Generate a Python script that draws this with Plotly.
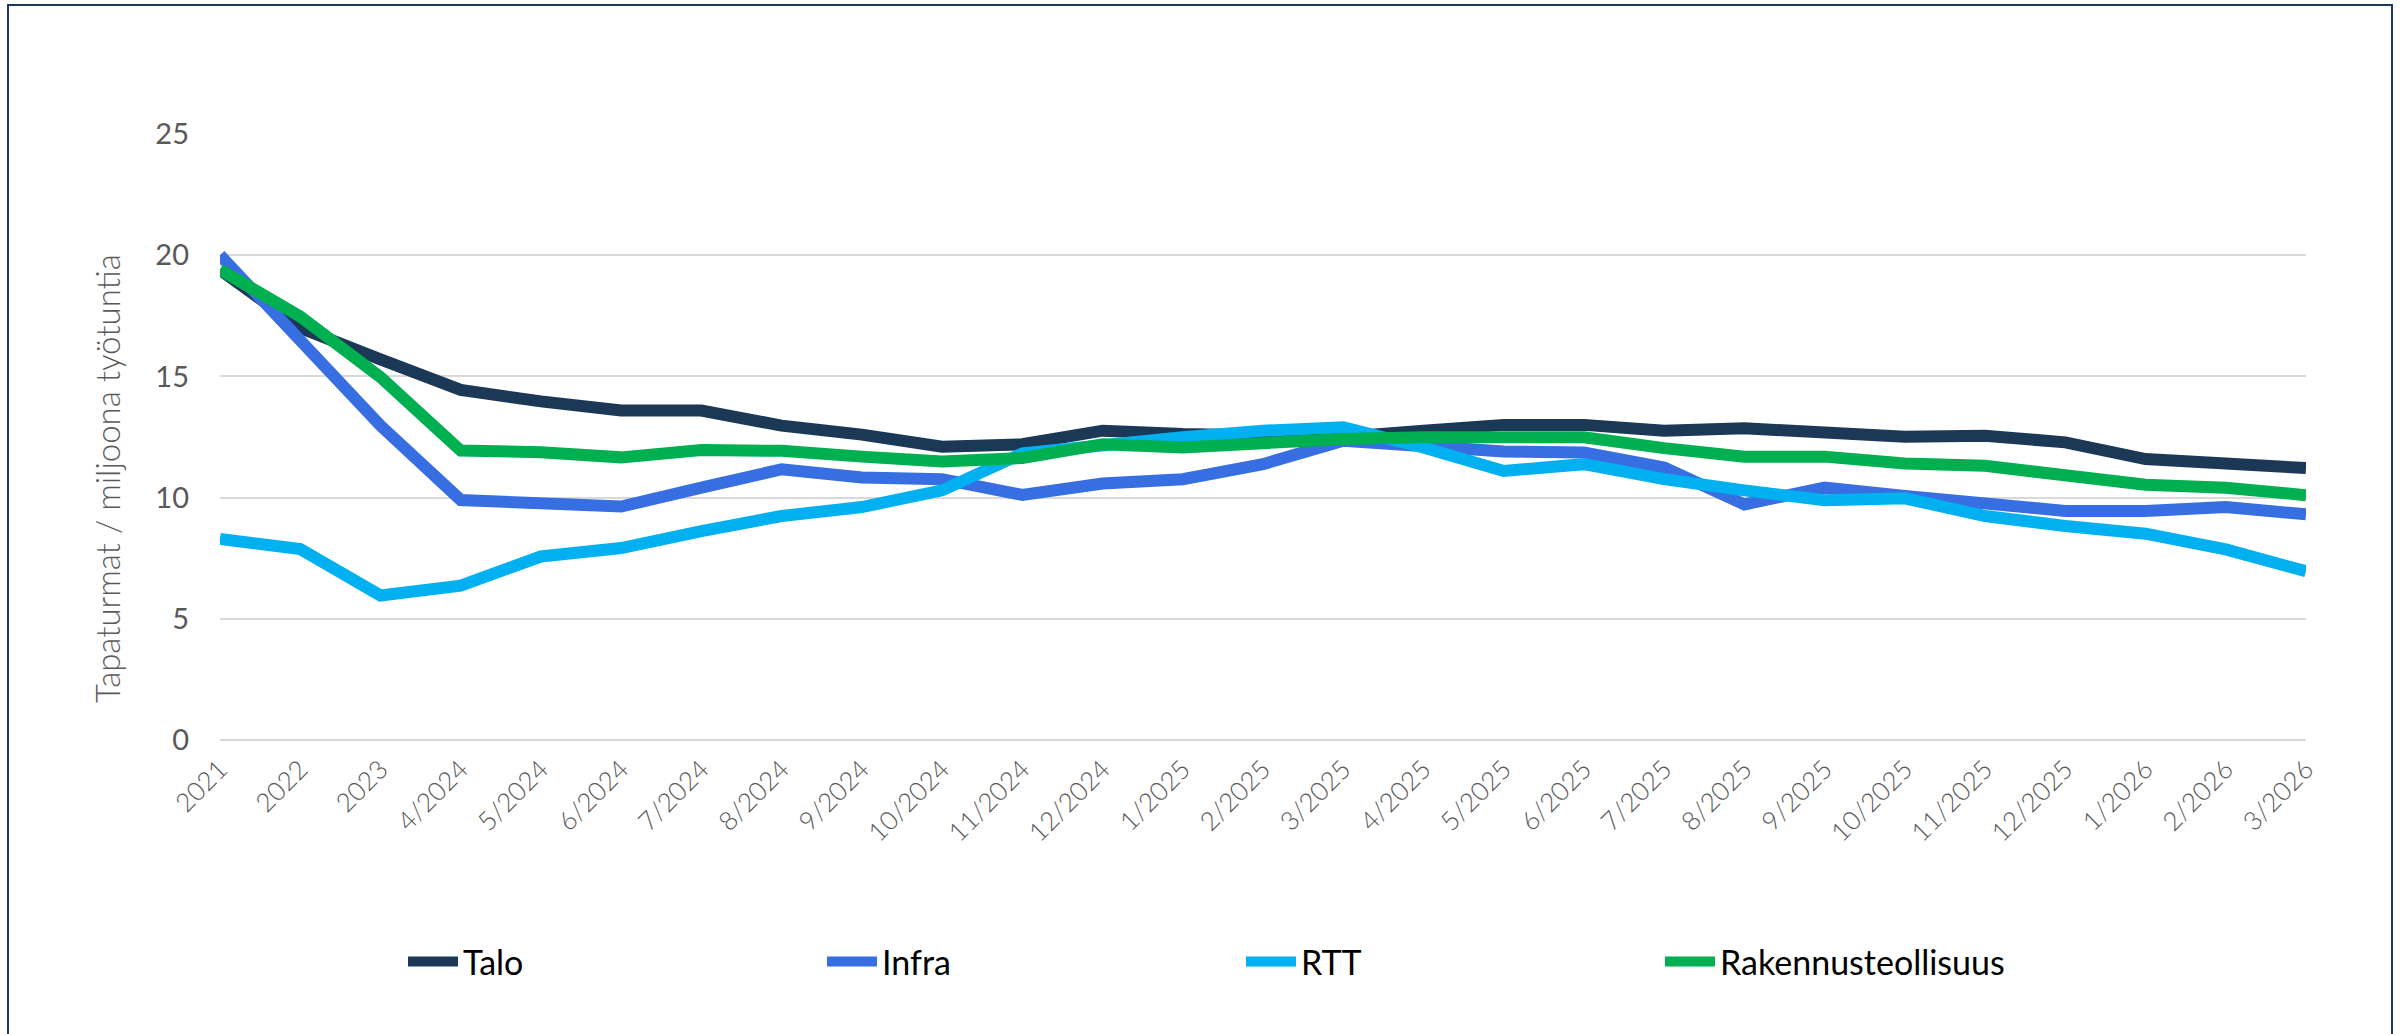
import plotly.graph_objects as go

categories = ["2021", "2022", "2023", "4/2024", "5/2024", "6/2024", "7/2024", "8/2024",
              "9/2024", "10/2024", "11/2024", "12/2024", "1/2025", "2/2025", "3/2025",
              "4/2025", "5/2025", "6/2025", "7/2025", "8/2025", "9/2025", "10/2025",
              "11/2025", "12/2025", "1/2026", "2/2026", "3/2026"]

talo = [19.4, 17.0, 15.7, 14.44, 13.97, 13.59, 13.59, 12.97, 12.6, 12.1, 12.2, 12.76, 12.62,
        12.62, 12.5, 12.76, 13.0, 13.0, 12.76, 12.86, 12.73, 12.51, 12.55, 12.28, 11.59, 11.41, 11.22]
infra = [20.0, 16.48, 12.97, 9.9, 9.8, 9.63, 10.41, 11.17, 10.83, 10.76, 10.11, 10.58, 10.76,
         11.38, 12.35, 12.07, 11.9, 11.86, 11.24, 9.72, 10.41, 10.07, 9.7, 9.45, 9.45, 9.61, 9.31]
rtt = [8.29, 7.88, 5.96, 6.37, 7.57, 7.92, 8.62, 9.24, 9.61, 10.3, 11.82, 12.2, 12.49,
       12.76, 12.9, 12.07, 11.1, 11.38, 10.76, 10.3, 9.89, 9.97, 9.24, 8.83, 8.51, 7.86, 6.96]
rakennus = [19.4, 17.47, 14.97, 11.94, 11.87, 11.66, 11.96, 11.93, 11.69, 11.49, 11.63, 12.2, 12.07,
            12.28, 12.42, 12.49, 12.49, 12.49, 12.04, 11.69, 11.69, 11.41, 11.31, 10.94, 10.53, 10.41, 10.1]

y_title = "Tapaturmat / miljoona työtuntia"

series = [("Talo", talo, "#1B3857"), ("Infra", infra, "#376EE2"),
          ("RTT", rtt, "#00B0F0"), ("Rakennusteollisuus", rakennus, "#00B050")]

fig = go.Figure()
for name, vals, col in series:
    fig.add_trace(go.Scatter(x=categories, y=vals, name=name, mode="lines",
                             line=dict(color=col, width=12)))

W, H = 2407, 1034
L, R, T, B = 220, 101, 134, 294
pw, ph = W - L - R, H - T - B

def px_x(p):
    return (p - L) / pw

def px_y(p):
    return (H - B - p) / ph

fig.update_layout(
    width=W, height=H,
    margin=dict(l=L, r=R, t=T, b=B, pad=0),
    paper_bgcolor="white", plot_bgcolor="white",
    font=dict(family="Lato, Open Sans, sans-serif", color="#595959", size=28, weight=300),
    xaxis=dict(type="category", tickangle=-45, showgrid=False, showline=False,
               ticks="", tickfont=dict(size=26, color="#595959", weight=300), ticklabelstandoff=8),
    yaxis=dict(range=[0, 25], dtick=5, showgrid=True, gridcolor="#D9D9D9", gridwidth=2,
               zeroline=True, zerolinecolor="#D9D9D9", zerolinewidth=2, showline=False,
               ticks="", tickfont=dict(size=29, color="#595959", weight=400), ticklabelstandoff=30),
    annotations=[dict(text=y_title, xref="paper", yref="paper", x=px_x(107), y=px_y(479),
                      xanchor="center", yanchor="middle", textangle=-90, showarrow=False,
                      font=dict(size=33, color="#595959", weight=300))],
    showlegend=True,
    legend=dict(orientation="h", x=px_x(403), xanchor="left", y=px_y(962), yanchor="middle",
                font=dict(size=34, color="#000000", weight=400), entrywidth=354,
                entrywidthmode="pixels", bgcolor="rgba(0,0,0,0)", itemwidth=50),
    shapes=[dict(type="rect", xref="paper", yref="paper",
                 x0=px_x(8), x1=px_x(2392), y0=px_y(1040), y1=px_y(5),
                 line=dict(color="#1F3A5F", width=2), fillcolor="rgba(0,0,0,0)", layer="below")],
)

fig.write_html("out.html", config={"displayModeBar": False},
               post_script="document.body.style.margin='0';")
